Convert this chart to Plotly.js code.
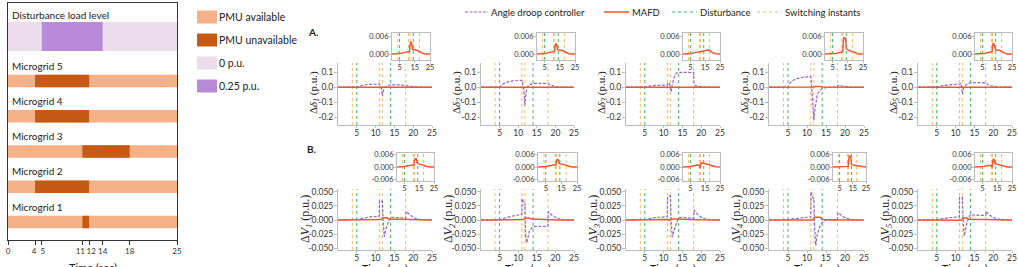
<!DOCTYPE html>
<html><head><meta charset="utf-8">
<script src="https://cdn.plot.ly/plotly-3.0.1.min.js"></script>
<style>html,body{margin:0;padding:0;background:#fff}#chart{width:1018px;height:267px}</style>
</head><body><div id="chart"></div>
<script>
// ---------- DATA ----------
const time = [0,5,5.5,6,7,8,9,10,11,11.05,11.5,11.8,12,12.3,12.7,13,13.5,14,14.5,15,16,17,18,18.1,18.5,19,20,21,22,25];

// Angle droop controller, rotor angle deviation (p.u.)
const droopDelta1 = [0,0,0.005,0.01,0.015,0.018,0.02,0.021,0.021,0.02,0.0,-0.06,-0.03,-0.005,0.005,0.01,0.013,0.015,0.016,0.016,0.015,0.014,0.013,0.012,0.009,0.006,0.003,0.001,0,0];
const droopDelta2 = [0,0,0.012,0.022,0.034,0.04,0.044,0.046,0.047,0.045,-0.02,-0.12,-0.06,-0.01,0.01,0.015,0.02,0.025,0.026,0.026,0.026,0.025,0.025,0.022,0.015,0.01,0.004,0.001,0,0];
const droopDelta3 = [0,0,0.003,0.006,0.01,0.012,0.013,0.013,0.014,0.02,0.03,-0.01,-0.03,0.02,0.06,0.08,0.095,0.098,0.098,0.098,0.097,0.097,0.097,0.02,0.01,0.006,0.003,0.001,0,0];
const droopDelta4 = [0,0,0.025,0.04,0.055,0.062,0.066,0.068,0.07,0.07,-0.1,-0.22,-0.16,-0.1,-0.05,-0.035,-0.02,-0.008,-0.004,-0.002,-0.001,0,0.002,0.012,0.01,0.007,0.003,0.001,0,0];
const droopDelta5 = [0,0,0.004,0.008,0.012,0.015,0.017,0.018,0.019,0.02,0.025,-0.045,-0.02,0.005,0.015,0.02,0.025,0.03,0.031,0.031,0.03,0.03,0.03,0.026,0.018,0.012,0.005,0.002,0,0];

// MAFD, rotor angle deviation (p.u.)
const mafdDelta1 = [0,0,0.0001,0.0002,0.0004,0.0005,0.0006,0.0007,0.0008,0.0008,0.0009,0.003,0.0038,0.004,0.004,0.0035,0.0016,0.0015,0.0014,0.0014,0.0013,0.0012,0.001,0.001,0.0008,0.0006,0.0003,0.0001,0,0];
const mafdDelta2 = [0,0,0.0001,0.0002,0.0004,0.0005,0.0006,0.0007,0.0008,0.0008,0.0009,0.0028,0.0033,0.0035,0.0034,0.003,0.0015,0.0014,0.0014,0.0013,0.0013,0.0012,0.001,0.001,0.0008,0.0006,0.0003,0.0001,0,0];
const mafdDelta3 = [0,0,0.0001,0.0002,0.0004,0.0005,0.0006,0.0007,0.0008,0.0008,0.0009,0.001,0.001,0.0011,0.0011,0.0012,0.0012,0.0013,0.0013,0.0014,0.0014,0.0014,0.0013,0.0012,0.001,0.0008,0.0005,0.0002,0.0001,0];
const mafdDelta4 = [0,0,0,0.0001,0.0002,0.0003,0.0004,0.0005,0.0007,0.0007,0.0008,0.002,0.005,0.0055,0.0055,0.0055,0.0054,0.0018,0.0015,0.0014,0.0012,0.001,0.0008,0.0008,0.0006,0.0004,0.0002,0.0001,0,0];
const mafdDelta5 = [0,0,0.0001,0.0002,0.0003,0.0004,0.0005,0.0006,0.0007,0.0007,0.0008,0.0025,0.0034,0.0036,0.0035,0.003,0.0015,0.0014,0.0014,0.0013,0.0013,0.0012,0.001,0.001,0.0008,0.0006,0.0003,0.0001,0,0];

// Angle droop controller, voltage deviation (p.u.)
const droopV1 = [0,0,0.001,0.002,0.004,0.005,0.006,0.0065,0.007,0.034,0.034,0.033,0.0,-0.03,-0.016,-0.01,-0.002,0.005,0.005,0.005,0.004,0.004,0.003,0.015,0.013,0.01,0.005,0.002,0.001,0];
const droopV2 = [0,0,0.002,0.003,0.005,0.007,0.008,0.009,0.01,0.038,0.03,0.03,-0.03,-0.04,-0.025,-0.02,-0.015,-0.012,-0.011,-0.011,-0.011,-0.011,-0.011,0.015,0.012,0.009,0.005,0.002,0.001,0];
const droopV3 = [0,0,0.001,0.002,0.004,0.005,0.005,0.006,0.006,0.04,0.042,0.043,0.0,-0.03,-0.02,-0.012,-0.004,0.004,0.005,0.005,0.004,0.004,0.003,0.018,0.014,0.01,0.005,0.002,0.001,0];
const droopV4 = [0,0,0.001,0.002,0.003,0.004,0.0045,0.005,0.005,0.05,0.04,0.038,-0.01,-0.045,-0.025,-0.018,-0.01,-0.004,-0.002,0,0,0,0,0.013,0.011,0.008,0.004,0.002,0.001,0];
const droopV5 = [0,0,0.001,0.002,0.003,0.004,0.005,0.005,0.006,0.04,0.04,0.04,0.0,-0.028,-0.015,-0.005,0.004,0.01,0.009,0.009,0.008,0.008,0.008,0.015,0.012,0.009,0.005,0.002,0.001,0];

// MAFD, voltage deviation (p.u.)
const mafdV1 = [0,0,0.0002,0.0004,0.0006,0.0008,0.0009,0.001,0.001,0.001,0.001,0.0035,0.004,0.004,0.004,0.004,0.002,0.0015,0.0015,0.0014,0.0013,0.0012,0.001,0.001,0.0008,0.0005,0.0003,0.0001,0,0];
const mafdV2 = [0,0,0.0002,0.0004,0.0006,0.0008,0.0009,0.001,0.001,0.001,0.001,0.003,0.0036,0.0037,0.0037,0.0035,0.0017,0.0015,0.0015,0.0014,0.0013,0.0012,0.001,0.001,0.0008,0.0005,0.0003,0.0001,0,0];
const mafdV3 = [0,0,0.0002,0.0004,0.0006,0.0008,0.0009,0.001,0.001,0.001,-0.0005,0.0005,0.0015,0.0018,0.002,0.002,0.0019,0.0018,0.0017,0.0016,0.0015,0.0014,0.0012,0.0012,0.001,0.0007,0.0004,0.0002,0.0001,0];
const mafdV4 = [0,0,0,0,0.0001,0.0001,0.0001,0.0001,0.0002,0.0002,0.0003,0.003,0.005,0.0052,0.0052,0.0052,0.0051,0.0012,0.001,0.0009,0.0008,0.0007,0.0006,0.0006,0.0004,0.0003,0.0002,0.0001,0,0];
const mafdV5 = [0,0,0.0002,0.0003,0.0005,0.0006,0.0007,0.0007,0.0008,0.0008,-0.0003,0.002,0.0035,0.0038,0.0038,0.0035,0.0016,0.0015,0.0014,0.0013,0.0012,0.0011,0.001,0.001,0.0008,0.0005,0.0003,0.0001,0,0];

// Event instants (sec)
const switchingInstants = [3.8, 11, 11.8, 18];
const disturbanceInstants = [5, 14];

// Timeline (left panel)
const microgrids = ['Microgrid 1','Microgrid 2','Microgrid 3','Microgrid 4','Microgrid 5'];
const pmuOutStart = [11, 4, 11, 4, 4];
const pmuOutEnd   = [12, 12, 18, 12, 12];
const disturbanceLabel = 'Disturbance load level';
const loadStepStart = 5, loadStepEnd = 14, simEnd = 25;
const timelineTicks = [0, 4, 5, 11, 12, 14, 18, 25];
const timelineTickText = ['0', '4\u00a0', '\u00a05', '11\u00a0\u00a0', '\u00a0\u00a012', '14', '18', '25'];
const legendLabels = ['PMU available','PMU unavailable','0 p.u.','0.25 p.u.'];
const seriesNames = ['Angle droop controller','MAFD','Disturbance','Switching instants'];

const deltaTicks = [-0.2, -0.1, 0, 0.1];
const deltaTickText = ['-0.2','-0.1','0.0','0.1'];
const vTicks = [-0.05, -0.025, 0, 0.025, 0.05];
const vTickText = ['-0.050','-0.025','0.000','0.025','0.050'];
const insetDeltaTicks = [0, 0.006];
const insetDeltaText = ['0.000','0.006'];
const insetVTicks = [-0.006, 0, 0.006];
const insetVText = ['-0.006','0.000','0.006'];

const droopDelta = [droopDelta1,droopDelta2,droopDelta3,droopDelta4,droopDelta5];
const mafdDelta = [mafdDelta1,mafdDelta2,mafdDelta3,mafdDelta4,mafdDelta5];
const droopV = [droopV1,droopV2,droopV3,droopV4,droopV5];
const mafdV = [mafdV1,mafdV2,mafdV3,mafdV4,mafdV5];

// ---------- STYLE / LAYOUT ----------
const W = 1018, H = 267;
const px = v => v / W, py = v => 1 - v / H;
const C = {
  avail:'#f5b187', unavail:'#c65a14', zero:'#ecdcec', quarter:'#b98ad9',
  droop:'#8f66d2', mafd:'#f2572a', dist:'#3db563', sw:'#f7b85a', axis:'#bdbdbd'
};
const FONT = 'Lato, "Open Sans", sans-serif';
const SERIF = '"Liberation Serif", "DejaVu Serif", serif';
const TICKF = {size:8.5, color:'#333'};

const traces = [];
const layout = {
  width: W, height: H, margin: {l:0, r:0, t:0, b:0},
  paper_bgcolor:'#fff', plot_bgcolor:'rgba(0,0,0,0)',
  font: {family: FONT, size: 10, color: '#222'},
  barmode: 'overlay', hovermode: false, showlegend: false,
  annotations: [], shapes: []
};
const note = (text, x, y, opts) => layout.annotations.push(Object.assign({text, xref:'paper', yref:'paper', x:px(x), y:py(y),
  xanchor:'center', yanchor:'middle', showarrow:false, font:{size:11, color:'#222'}}, opts || {}));

// Left timeline panel
layout.xaxis = {domain:[px(8), px(177)], range:[0, simEnd], tickvals: timelineTicks, ticktext: timelineTickText, ticks:'outside', ticklen:4, tickangle:0,
  tickcolor:'#333', showline:true, mirror:true, linecolor:'#333', linewidth:1, showgrid:false, zeroline:false,
  tickfont:{size:8, color:'#333'}, ticklabelstandoff:-1, anchor:'y', fixedrange:true};
layout.yaxis = {domain:[py(240), py(3)], range:[240, 3], showline:true, mirror:true, linecolor:'#333',
  showticklabels:false, ticks:'', showgrid:false, zeroline:false, anchor:'x', fixedrange:true};
note('Time (sec)', 92.5, 259, {yanchor:'top', font:{size:11, color:'#222'}});

const rowCenter = i => 222 - 35.25 * i;  // row positions on the timeline axis
const mgY = microgrids.map((_, i) => rowCenter(i));
traces.push({type:'bar', orientation:'h', y: mgY, x: mgY.map(() => simEnd), base: mgY.map(() => 0), name:'PMU available',
  width: mgY.map(() => 12.5), marker:{color:C.avail, line:{width:0}}, xaxis:'x', yaxis:'y', hoverinfo:'skip'});
traces.push({type:'bar', orientation:'h', y: mgY, x: pmuOutEnd.map((e, i) => e - pmuOutStart[i]), base: pmuOutStart, name:'PMU unavailable',
  width: mgY.map(() => 12.5), marker:{color:C.unavail, line:{width:0}}, xaxis:'x', yaxis:'y', hoverinfo:'skip'});
traces.push({type:'bar', orientation:'h', y:[36.5], x:[simEnd], base:[0], width:[29], name:'0 p.u.',
  marker:{color:C.zero, line:{width:0}}, xaxis:'x', yaxis:'y', hoverinfo:'skip'});
traces.push({type:'bar', orientation:'h', y:[36.5], x:[loadStepEnd - loadStepStart], base:[loadStepStart], width:[29], name:'0.25 p.u.',
  marker:{color:C.quarter, line:{width:0}}, xaxis:'x', yaxis:'y', hoverinfo:'skip'});

note(disturbanceLabel, 10, 15, {xanchor:'left', font:{size:10, color:'#222'}});
microgrids.forEach((m, i) => note(m, 10, rowCenter(i) - 15.5, {xanchor:'left', font:{size:10, color:'#222'}}));

// Left legend (swatches)
const legColors = [C.avail, C.unavail, C.zero, C.quarter];
legendLabels.forEach((lab, i) => {
  const yc = 17 + i * 23;
  layout.shapes.push({type:'rect', xref:'paper', yref:'paper', x0:px(197), x1:px(217), y0:py(yc + 6.5), y1:py(yc - 6.5),
    fillcolor:legColors[i], line:{width:0}});
  note(lab, 217, yc, {xanchor:'left', font:{size:10.5, color:'#222'}});
});

// Top legend (line keys)
const keyStyles = [
  {color:C.droop, width:1.2, dash:'3px,1.5px'}, {color:C.mafd, width:1.5}, {color:C.dist, width:1, dash:'dot'}, {color:C.sw, width:1, dash:'dot'}
];
const keyX = [[465, 488], [604, 629], [672, 697], [757, 782]];
seriesNames.forEach((nm, k) => {
  layout.shapes.push({type:'line', xref:'paper', yref:'paper', x0:px(keyX[k][0]), x1:px(keyX[k][1]), y0:py(12), y1:py(12), line:keyStyles[k]});
  note(nm, keyX[k][1] + 1, 12, {xanchor:'left', font:{size:9.5, color:'#222'}});
});

// Panel labels
note('<b>A.</b>', 306, 32, {xanchor:'left', font:{size:10, color:'#222'}});
note('<b>B.</b>', 305, 149, {xanchor:'left', font:{size:10, color:'#222'}});

// Subplot geometry
const mainL = [338, 481, 626, 769, 918];
const mainR = [432, 574, 720, 864, 1012];
const topY = [63, 125], botY = [189, 250];
const insTopX = [[392,430],[537,575],[683,720],[825,863],[975,1012]];
const insBotX = [[397,434],[538,577],[683,720],[833,866],[975,1012]];
const insTopY = [33, 60], insBotY = [153, 181];
const rTop = [-0.25, 0.16], rBot = [-0.053, 0.055], rInsTop = [-0.002, 0.0071], rInsBot = [-0.0068, 0.0068];

function mainX(id, i) {
  layout['xaxis' + id] = {domain:[px(mainL[i]), px(mainR[i])], range:[0, 25], tickvals:[5,10,15,20,25], ticks:'outside', ticklen:2, tickangle:0,
    tickcolor:C.axis, showline:true, linecolor:C.axis, showgrid:false, zeroline:false, anchor:'y' + id, tickfont:TICKF,
    ticklabelstandoff:-2, fixedrange:true};
}
function mainYax(id, yr, range, tv, tt) {
  layout['yaxis' + id] = {domain:[py(yr[1]), py(yr[0])], range: range, tickvals: tv, ticktext: tt, ticks:'outside', ticklen:3,
    tickcolor:C.axis, showline:true, linecolor:C.axis, showgrid:false, zeroline:false, anchor:'x' + id, tickfont:TICKF,
    ticklabelstandoff:-1, fixedrange:true};
}
function insetAx(id, xr, yr, range, tv, tt) {
  layout['xaxis' + id] = {domain:[px(xr[0]), px(xr[1])], range:[0, 25], tickvals:[5,15,25], ticks:'outside', ticklen:2, tickcolor:C.axis, tickangle:0,
    showline:true, mirror:true, linecolor:C.axis, showgrid:false, zeroline:false, anchor:'y' + id, tickfont:{size:7.5, color:'#333'},
    ticklabelstandoff:-2, fixedrange:true};
  layout['yaxis' + id] = {domain:[py(yr[1]), py(yr[0])], range: range, tickvals: tv, ticktext: tt, ticks:'outside', ticklen:2, tickcolor:C.axis,
    showline:true, mirror:true, linecolor:C.axis, showgrid:false, zeroline:false, anchor:'x' + id, tickfont:{size:7.5, color:'#333'},
    ticklabelstandoff:-1, fixedrange:true};
}

function vlines(xs, range, color, id, name) {
  const x = [], y = [];
  xs.forEach(v => { x.push(v, v, null); y.push(range[0], range[1], null); });
  traces.push({type:'scatter', mode:'lines', x, y, xaxis:'x' + id, yaxis:'y' + id, name,
    line:{color, width:1, dash:'dot'}, hoverinfo:'skip'});
}
function curve(xs, ys, id, kind) {
  traces.push({type:'scatter', mode:'lines', x: xs, y: ys, xaxis:'x' + id, yaxis:'y' + id, hoverinfo:'skip',
    name: kind === 'droop' ? seriesNames[0] : seriesNames[1],
    line: kind === 'droop' ? keyStyles[0] : keyStyles[1]});
}

for (let i = 0; i < 5; i++) {
  const top = 2 + i, bot = 7 + i, it = 12 + i, ib = 17 + i;
  mainX(top, i);
  mainYax(top, topY, rTop, deltaTicks, deltaTickText);
  mainX(bot, i);
  mainYax(bot, botY, rBot, vTicks, vTickText);
  insetAx(it, insTopX[i], insTopY, rInsTop, insetDeltaTicks, insetDeltaText);
  insetAx(ib, insBotX[i], insBotY, rInsBot, insetVTicks, insetVText);

  // axis titles
  note('Δ<i>δ</i><sub><i>' + (i + 1) + '</i></sub> (p.u.)', mainL[i] - 24, 93, {textangle:-90, font:{family:SERIF, size:11, color:'#222'}});
  note('Δ<i>V</i><sub><i>' + (i + 1) + '</i></sub> (p.u.)', mainL[i] - 32, 219, {textangle:-90, font:{family:SERIF, size:12, color:'#222'}});
  note('Time (sec)', (mainL[i] + mainR[i]) / 2, 261, {yanchor:'top', font:{size:10.5, color:'#222'}});

  [[top, rTop], [bot, rBot], [it, rInsTop], [ib, rInsBot]].forEach(([id, r]) => {
    vlines(switchingInstants, r, C.sw, id, seriesNames[3]);
    vlines(disturbanceInstants, r, C.dist, id, seriesNames[2]);
  });
  curve(time, droopDelta[i], top, 'droop');
  curve(time, mafdDelta[i], top, 'mafd');
  curve(time, droopV[i], bot, 'droop');
  curve(time, mafdV[i], bot, 'mafd');
  curve(time, mafdDelta[i], it, 'mafd');
  curve(time, mafdV[i], ib, 'mafd');
}

Plotly.newPlot('chart', traces, layout, {staticPlot:true, displayModeBar:false});
</script></body></html>
